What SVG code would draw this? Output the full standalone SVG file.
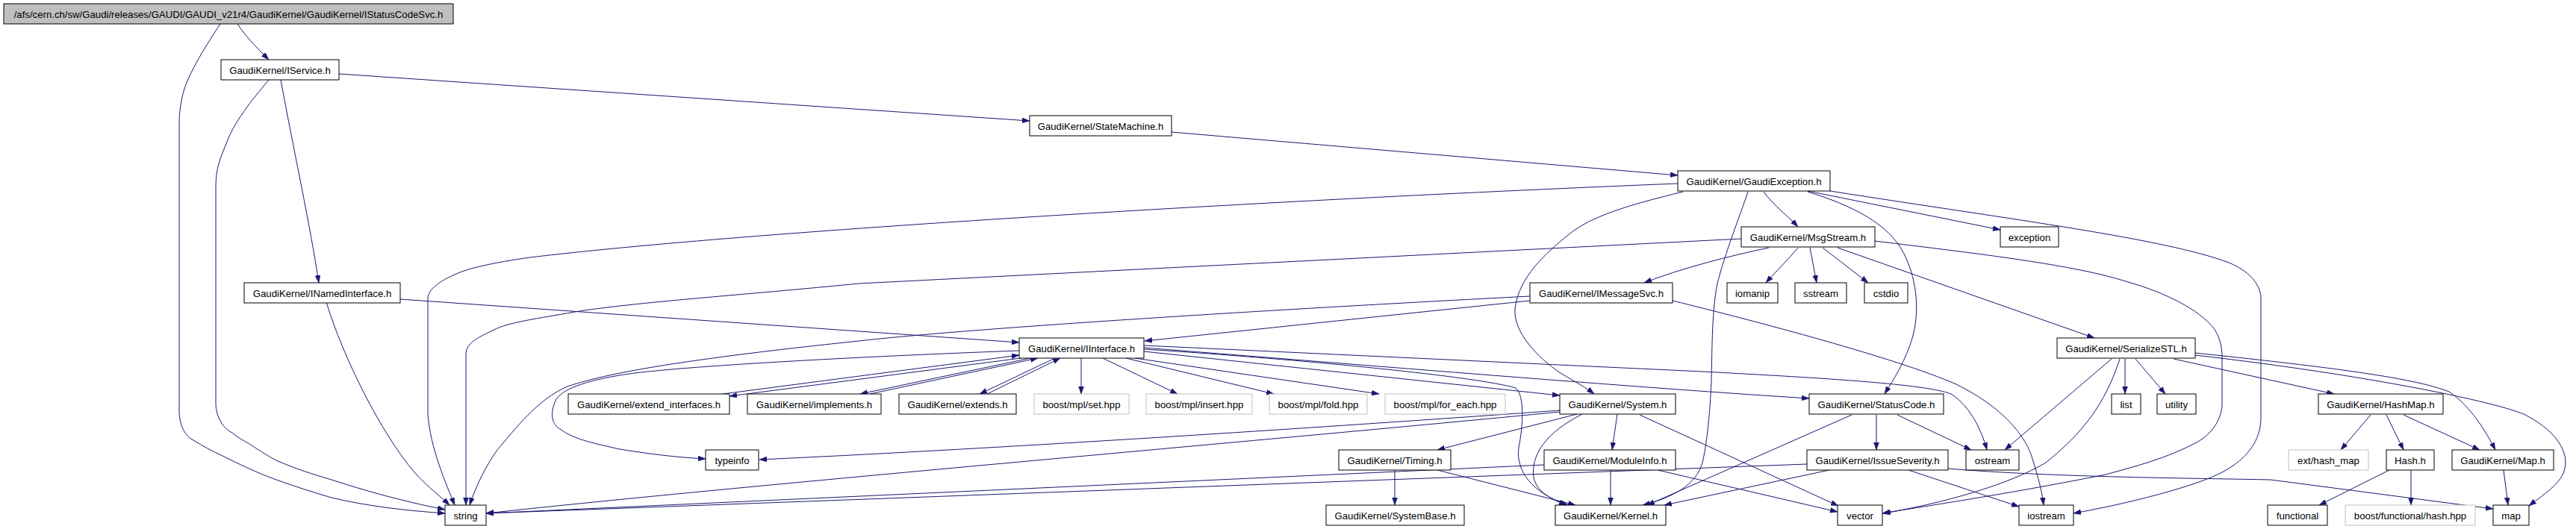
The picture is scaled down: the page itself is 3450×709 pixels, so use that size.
<svg xmlns="http://www.w3.org/2000/svg" width="3450" height="709" viewBox="0 0 3450 709">
<style>
.n rect{fill:#fff;stroke:#000;stroke-width:1}
.n.g rect{stroke:#bfbfbf}
.n.r rect{fill:#bfbfbf}
.n text{font-family:"Liberation Sans",Arial,Helvetica,sans-serif;font-size:13.2px;text-anchor:middle;fill:#000}
#edges path{fill:none;stroke:#191970;stroke-width:1;marker-end:url(#a)}
</style>
<defs>
<marker id="a" markerUnits="userSpaceOnUse" markerWidth="11" markerHeight="8" refX="10" refY="3.5" orient="auto"><path d="M0,0 L10,3.5 L0,7 z" fill="#191970" stroke="#191970" stroke-width="0.5"/></marker>
</defs>
<rect width="3450" height="709" fill="#fff"/>
<g id="edges">
<path d="M318,32 C330,50 345,65 360,80"/>
<path d="M295,32 C280,55 250,100 244,130 C241,145 240,155 240,165 L240,550 C240,570 248,585 259,590 C272,598 283,604 296,610 C320,622 345,634 370,643 C395,652 420,660 444,667 C490,678 540,684 596,688"/>
<path d="M360,107 C345,125 315,160 304,190 C295,212 289,225 289,250 L289,540 C289,560 300,575 311,580 C320,588 330,592 337,597 C350,605 360,612 370,617 C395,628 420,636 444,643 C490,658 540,672 596,683"/>
<path d="M376,107 C395,210 415,300 427,379"/>
<path d="M454,99 L1379,162"/>
<path d="M1569,177 L2247,235"/>
<path d="M2247,246 C1700,268 1000,310 710,345 C660,352 625,360 609,368 C590,376 573,388 573,400 L573,555 C576,600 598,650 609,677"/>
<path d="M437,405 C460,480 510,580 555,633 C575,655 590,665 602,677"/>
<path d="M536,401 L1365,459"/>
<path d="M2362,257 C2375,275 2395,290 2408,304"/>
<path d="M2421,256 L2679,308"/>
<path d="M2254,257 C2180,275 2130,290 2100,315 C2070,340 2035,370 2029,413 C2026,445 2060,480 2090,500 C2110,512 2125,520 2135,528"/>
<path d="M2341,257 C2330,290 2310,340 2300,380 C2292,420 2293,480 2292,510 C2290,560 2285,600 2280,620 C2272,650 2240,667 2200,677"/>
<path d="M2421,257 C2480,275 2530,300 2550,340 C2565,370 2572,410 2562,450 C2552,485 2535,510 2524,528"/>
<path d="M2451,256 C2700,295 2900,320 2985,352 C3010,362 3028,380 3028,400 L3028,560 C3028,590 3010,615 2976,633 C2940,652 2850,675 2777,688"/>
<path d="M2332,320 L1150,380 C1000,395 850,405 770,418 C720,427 680,432 662,442 C640,452 624,460 624,475 L624,677"/>
<path d="M2369,332 C2320,342 2250,360 2202,379"/>
<path d="M2408,332 C2395,348 2380,362 2365,379"/>
<path d="M2424,332 L2433,379"/>
<path d="M2441,332 L2502,379"/>
<path d="M2461,332 L2805,453"/>
<path d="M2511,323 C2650,340 2780,355 2850,378 C2900,392 2945,415 2965,440 C2975,455 2976,470 2976,480 L2976,543 C2975,560 2965,580 2942,593 C2900,615 2860,625 2820,636 C2700,660 2600,675 2521,688"/>
<path d="M2049,403 L1533,457"/>
<path d="M2049,397 C1700,415 1300,440 1150,457 C950,478 820,497 760,518 C720,535 690,575 666,603 C650,625 636,655 629,677"/>
<path d="M2240,403 C2350,430 2540,480 2620,515 C2690,550 2715,590 2722,615 C2730,640 2735,660 2737,677"/>
<path d="M1365,470 C1200,476 950,488 850,500 C790,508 755,520 745,535 C735,555 740,570 750,575 C770,590 800,595 830,602 C880,610 910,613 945,615"/>
<path d="M1367,480 L977,531"/>
<path d="M968,528 L1365,476"/>
<path d="M1165,528 L1390,480"/>
<path d="M1380,480 L1152,528"/>
<path d="M1322,528 L1420,480"/>
<path d="M1413,480 L1312,528"/>
<path d="M1448,480 L1448,528"/>
<path d="M1477,480 L1577,528"/>
<path d="M1508,480 L1706,528"/>
<path d="M1520,480 L1847,528"/>
<path d="M1532,471 L2089,530"/>
<path d="M1532,466 C1900,495 2200,520 2423,534"/>
<path d="M1532,468 C1750,482 1980,505 2030,520 C2042,530 2040,570 2034,600 C2030,630 2050,660 2100,677"/>
<path d="M1532,463 L2280,498 C2450,507 2580,515 2613,528 C2640,545 2655,580 2661,603"/>
<path d="M2112,555 L1925,603"/>
<path d="M2166,555 L2159,603"/>
<path d="M2119,555 C2070,580 2050,610 2054,640 C2058,660 2080,670 2098,677"/>
<path d="M2089,550 C1700,578 1300,603 1017,616"/>
<path d="M2089,552 C1700,590 1000,650 651,688"/>
<path d="M2196,556 L2462,678"/>
<path d="M1868,630 L1868,677"/>
<path d="M1925,630 L2110,677"/>
<path d="M2157,630 L2157,677"/>
<path d="M2068,623 L651,688"/>
<path d="M2220,630 L2461,686"/>
<path d="M2513,556 L2513,603"/>
<path d="M2541,556 L2640,603"/>
<path d="M2480,556 L2206,677"/>
<path d="M2450,630 L2229,677"/>
<path d="M2420,622 L651,688"/>
<path d="M2556,630 L2704,679"/>
<path d="M2609,628 C2750,640 2950,641 3041,643 L3339,682"/>
<path d="M2828,481 L2685,603"/>
<path d="M2839,481 C2820,540 2790,580 2740,620 C2690,650 2600,675 2522,688"/>
<path d="M2846,481 L2846,528"/>
<path d="M2860,481 L2900,528"/>
<path d="M2911,481 L3126,528"/>
<path d="M2940,473 C3100,490 3230,505 3280,525 C3310,545 3330,580 3342,603"/>
<path d="M2940,476 C3150,500 3330,535 3380,555 C3420,575 3436,600 3436,620 C3436,645 3410,660 3387,678"/>
<path d="M3175,556 L3135,603"/>
<path d="M3196,556 L3219,603"/>
<path d="M3219,556 L3321,603"/>
<path d="M3200,630 L3106,677"/>
<path d="M3229,630 L3229,677"/>
<path d="M3353,630 L3359,677"/>
</g>
<g id="n0" class="n r"><rect x="5" y="5" width="602" height="27"/><text x="306" y="23.5">/afs/cern.ch/sw/Gaudi/releases/GAUDI/GAUDI_v21r4/GaudiKernel/GaudiKernel/IStatusCodeSvc.h</text></g>
<g id="n1" class="n"><rect x="296" y="80" width="158" height="27"/><text x="375" y="98.5">GaudiKernel/IService.h</text></g>
<g id="n2" class="n"><rect x="1379" y="155" width="190" height="27"/><text x="1474" y="173.5">GaudiKernel/StateMachine.h</text></g>
<g id="n3" class="n"><rect x="2247" y="229" width="204" height="27"/><text x="2349" y="247.5">GaudiKernel/GaudiException.h</text></g>
<g id="n4" class="n"><rect x="2332" y="304" width="179" height="27"/><text x="2421.5" y="322.5">GaudiKernel/MsgStream.h</text></g>
<g id="n5" class="n"><rect x="2679" y="304" width="78" height="27"/><text x="2718" y="322.5">exception</text></g>
<g id="n6" class="n"><rect x="327" y="379" width="209" height="27"/><text x="431.5" y="397.5">GaudiKernel/INamedInterface.h</text></g>
<g id="n7" class="n"><rect x="2049" y="379" width="191" height="27"/><text x="2144.5" y="397.5">GaudiKernel/IMessageSvc.h</text></g>
<g id="n8" class="n"><rect x="2313" y="379" width="68" height="27"/><text x="2347" y="397.5">iomanip</text></g>
<g id="n9" class="n"><rect x="2404" y="379" width="69" height="27"/><text x="2438.5" y="397.5">sstream</text></g>
<g id="n10" class="n"><rect x="2497" y="379" width="58" height="27"/><text x="2526" y="397.5">cstdio</text></g>
<g id="n11" class="n"><rect x="1365" y="453" width="167" height="27"/><text x="1448.5" y="471.5">GaudiKernel/IInterface.h</text></g>
<g id="n12" class="n"><rect x="2755" y="453" width="185" height="27"/><text x="2847.5" y="471.5">GaudiKernel/SerializeSTL.h</text></g>
<g id="n13" class="n"><rect x="761" y="528" width="216" height="27"/><text x="869" y="546.5">GaudiKernel/extend_interfaces.h</text></g>
<g id="n14" class="n"><rect x="1001" y="528" width="179" height="27"/><text x="1090.5" y="546.5">GaudiKernel/implements.h</text></g>
<g id="n15" class="n"><rect x="1204" y="528" width="157" height="27"/><text x="1282.5" y="546.5">GaudiKernel/extends.h</text></g>
<g id="n16" class="n g"><rect x="1385" y="528" width="127" height="27"/><text x="1448.5" y="546.5">boost/mpl/set.hpp</text></g>
<g id="n17" class="n g"><rect x="1535" y="528" width="142" height="27"/><text x="1606" y="546.5">boost/mpl/insert.hpp</text></g>
<g id="n18" class="n g"><rect x="1700" y="528" width="131" height="27"/><text x="1765.5" y="546.5">boost/mpl/fold.hpp</text></g>
<g id="n19" class="n g"><rect x="1855" y="528" width="161" height="27"/><text x="1935.5" y="546.5">boost/mpl/for_each.hpp</text></g>
<g id="n20" class="n"><rect x="2089" y="528" width="155" height="27"/><text x="2166.5" y="546.5">GaudiKernel/System.h</text></g>
<g id="n21" class="n"><rect x="2423" y="528" width="180" height="27"/><text x="2513" y="546.5">GaudiKernel/StatusCode.h</text></g>
<g id="n22" class="n"><rect x="2828" y="528" width="39" height="27"/><text x="2847.5" y="546.5">list</text></g>
<g id="n23" class="n"><rect x="2889" y="528" width="52" height="27"/><text x="2915" y="546.5">utility</text></g>
<g id="n24" class="n"><rect x="3105" y="528" width="167" height="27"/><text x="3188.5" y="546.5">GaudiKernel/HashMap.h</text></g>
<g id="n25" class="n"><rect x="945" y="603" width="71" height="27"/><text x="980.5" y="621.5">typeinfo</text></g>
<g id="n26" class="n"><rect x="1793" y="603" width="150" height="27"/><text x="1868" y="621.5">GaudiKernel/Timing.h</text></g>
<g id="n27" class="n"><rect x="2068" y="603" width="176" height="27"/><text x="2156" y="621.5">GaudiKernel/ModuleInfo.h</text></g>
<g id="n28" class="n"><rect x="2420" y="603" width="189" height="27"/><text x="2514.5" y="621.5">GaudiKernel/IssueSeverity.h</text></g>
<g id="n29" class="n"><rect x="2633" y="603" width="71" height="27"/><text x="2668.5" y="621.5">ostream</text></g>
<g id="n30" class="n g"><rect x="3065" y="603" width="107" height="27"/><text x="3118.5" y="621.5">ext/hash_map</text></g>
<g id="n31" class="n"><rect x="3196" y="603" width="64" height="27"/><text x="3228" y="621.5">Hash.h</text></g>
<g id="n32" class="n"><rect x="3284" y="603" width="136" height="27"/><text x="3352" y="621.5">GaudiKernel/Map.h</text></g>
<g id="n33" class="n"><rect x="596" y="677" width="55" height="27"/><text x="623.5" y="695.5">string</text></g>
<g id="n34" class="n"><rect x="1776" y="677" width="185" height="27"/><text x="1868.5" y="695.5">GaudiKernel/SystemBase.h</text></g>
<g id="n35" class="n"><rect x="2083" y="677" width="148" height="27"/><text x="2157" y="695.5">GaudiKernel/Kernel.h</text></g>
<g id="n36" class="n"><rect x="2461" y="677" width="60" height="27"/><text x="2491" y="695.5">vector</text></g>
<g id="n37" class="n"><rect x="2704" y="677" width="73" height="27"/><text x="2740.5" y="695.5">iostream</text></g>
<g id="n38" class="n"><rect x="3037" y="677" width="80" height="27"/><text x="3077" y="695.5">functional</text></g>
<g id="n39" class="n g"><rect x="3141" y="677" width="174" height="27"/><text x="3228" y="695.5">boost/functional/hash.hpp</text></g>
<g id="n40" class="n"><rect x="3339" y="677" width="48" height="27"/><text x="3363" y="695.5">map</text></g>
</svg>
